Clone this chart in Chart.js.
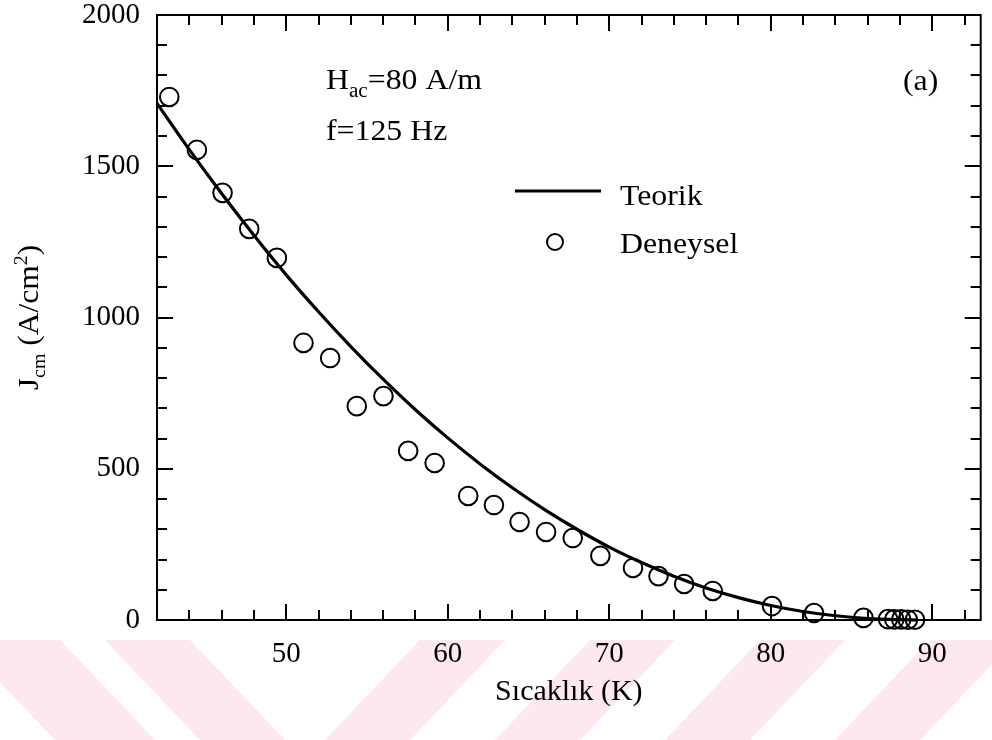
<!DOCTYPE html>
<html>
<head>
<meta charset="utf-8">
<script src="https://cdn.jsdelivr.net/npm/chart.js@4.4.1/dist/chart.umd.min.js"></script>
<style>
  html, body { margin: 0; padding: 0; background: #fff; }
  #wrap { width: 992px; height: 740px; }
</style>
</head>
<body>
<div id="wrap"><canvas id="c" width="992" height="740"></canvas></div>
<script>
// Measured critical current density J_cm (A/cm²) against temperature (K)
const measuredT = [42.76, 44.47, 46.06, 47.71, 49.42, 51.07, 52.72, 54.37, 56.02, 57.55,
                   59.19, 61.27, 62.86, 64.45, 66.09, 67.74, 69.45, 71.47, 73.05, 74.64,
                   76.41, 80.08, 82.68, 85.74, 87.26, 87.65, 88.08, 88.49, 88.93];
const measuredJ = [1729, 1554, 1412, 1293, 1197, 916, 866, 707, 740, 559,
                   519, 410, 380, 324, 291, 271, 212, 172, 145, 119,
                   96, 46, 23, 7, 3, 2, 2, 1, 1];

// Theoretical curve
const theoryT = [42, 44, 46, 48, 50, 52, 54, 56, 58, 60, 62, 64, 66,
                 68, 70, 72, 74, 76, 78, 80, 82, 84, 86, 88, 89];
const theoryJ = [1708, 1555, 1410, 1272, 1141, 1019, 904, 796, 695, 602, 516, 437, 365,
                 300, 241, 190, 145, 106, 74, 48, 28, 14, 5, 1, 0];

const xTickValues = [50, 60, 70, 80, 90];
const yTickValues = [0, 500, 1000, 1500, 2000];
const seriesNames = ['Teorik', 'Deneysel'];

const FONT = "'Liberation Serif', 'Times New Roman', serif";
// plot frame placement on the 992x740 page
const FRAME = { left: 157, top: 15, right: 991, bottom: 620 };
const STRETCH = 1.06;

function drawRuns(ctx, runs, x, y, stretch = 1) {
  // runs: [text, fontSize, baselineShift]; stretch widens glyphs horizontally
  ctx.save();
  ctx.translate(x, y);
  ctx.scale(stretch, 1);
  let cx = 0;
  for (const [t, size, dy] of runs) {
    ctx.font = size + 'px ' + FONT;
    ctx.fillText(t, cx, dy);
    cx += ctx.measureText(t).width;
  }
  ctx.restore();
}
function runsWidth(ctx, runs) {
  let w = 0;
  for (const [t, size] of runs) { ctx.font = size + 'px ' + FONT; w += ctx.measureText(t).width; }
  return w;
}

const decorations = {
  id: 'decorations',
  beforeDraw(chart) {
    const { ctx, width, height } = chart;
    ctx.save();
    ctx.fillStyle = '#ffffff';
    ctx.fillRect(0, 0, width, height);
    // faint diagonal bands along the foot of the page
    ctx.fillStyle = '#fde8ed';
    const bands = [
      [-40, 100, 95], [105, 85, 95],
      [420, 85, -95], [590, 85, -95], [760, 85, -95], [930, 85, -95]
    ];
    for (const [x0, w, d] of bands) {
      ctx.beginPath();
      ctx.moveTo(x0, 640);
      ctx.lineTo(x0 + w, 640);
      ctx.lineTo(x0 + w + d, 740);
      ctx.lineTo(x0 + d, 740);
      ctx.closePath();
      ctx.fill();
    }
    ctx.restore();
  },
  afterDraw(chart) {
    const { ctx, chartArea: a } = chart;
    const xs = chart.scales.x, ys = chart.scales.y;
    ctx.save();
    ctx.strokeStyle = '#000';
    ctx.lineWidth = 2;
    const seg = (x1, y1, x2, y2) => { ctx.beginPath(); ctx.moveTo(x1, y1); ctx.lineTo(x2, y2); ctx.stroke(); };

    // inward tick marks on all four sides
    for (let t = 44; t < xs.max; t += 2) {
      const px = Math.round(xs.getPixelForValue(t));
      const len = t % 10 === 0 ? 16 : 10;
      seg(px, a.bottom, px, a.bottom - len);
      seg(px, a.top, px, a.top + len);
    }
    for (let v = 100; v < ys.max; v += 100) {
      const py = Math.round(ys.getPixelForValue(v));
      const len = v % 500 === 0 ? 16 : 10;
      seg(a.left, py, a.left + len, py);
      seg(a.right, py, a.right - len, py);
    }
    ctx.strokeRect(a.left, a.top, a.right - a.left, a.bottom - a.top);

    // text inside the plot
    ctx.fillStyle = '#000';
    ctx.textAlign = 'left';
    ctx.textBaseline = 'alphabetic';
    drawRuns(ctx, [['H', 30, 0], ['ac', 20, 8], ['=80 A/m', 30, 0]], 326, 89, STRETCH);
    drawRuns(ctx, [['f=125 Hz', 30, 0]], 326, 140, STRETCH);
    drawRuns(ctx, [['(a)', 30, 0]], 903, 90, STRETCH);

    // legend
    ctx.lineWidth = 3;
    seg(515, 191, 601, 191);
    ctx.lineWidth = 2;
    ctx.beginPath(); ctx.arc(555, 242, 8, 0, Math.PI * 2); ctx.stroke();
    drawRuns(ctx, [[seriesNames[0], 30, 0]], 620, 205, STRETCH);
    drawRuns(ctx, [[seriesNames[1], 30, 0]], 620, 253, STRETCH);

    // y axis title with sub/superscripts
    const yTitle = [['J', 30, 0], ['cm', 19, 7], [' (A/cm', 30, 0], ['2', 19, -11], [')', 30, 0]];
    const w = runsWidth(ctx, yTitle) * 1.05;
    ctx.translate(38, (a.top + a.bottom) / 2);
    ctx.rotate(-Math.PI / 2);
    drawRuns(ctx, yTitle, -w / 2, 0, 1.05);
    ctx.restore();
  }
};

const chart = new Chart(document.getElementById('c'), {
  type: 'scatter',
  data: {
    datasets: [
      {
        label: seriesNames[0],
        data: theoryT.map((t, i) => ({ x: t, y: theoryJ[i] })),
        showLine: true,
        borderColor: '#000',
        borderWidth: 3.2,
        pointRadius: 0,
        cubicInterpolationMode: 'monotone',
        fill: false,
        clip: false,
        order: 1
      },
      {
        label: seriesNames[1],
        data: measuredT.map((t, i) => ({ x: t, y: measuredJ[i] })),
        showLine: false,
        pointStyle: 'circle',
        pointRadius: 9.3,
        pointBorderWidth: 2,
        pointBorderColor: '#000',
        pointBackgroundColor: 'rgba(0,0,0,0)',
        clip: false,
        order: 2
      }
    ]
  },
  options: {
    responsive: false,
    animation: false,
    events: [],
    layout: { padding: { top: FRAME.top, right: 992 - FRAME.right, left: 0, bottom: 0 } },
    plugins: { legend: { display: false }, tooltip: { enabled: false } },
    scales: {
      x: {
        type: 'linear',
        min: 42,
        max: 93,
        grid: { display: false, drawTicks: false },
        border: { display: false },
        afterBuildTicks: s => { s.ticks = xTickValues.map(v => ({ value: v })); },
        afterFit: s => { s.height = 740 - FRAME.bottom; s.paddingLeft = 0; s.paddingRight = 0; },
        ticks: {
          font: { family: FONT, size: 29 }, color: '#000', padding: 17,
          maxRotation: 0, autoSkip: false, callback: v => String(v)
        },
        title: {
          display: true,
          text: 'Sıcaklık (K)',
          color: '#000',
          font: { family: FONT, size: 30 },
          padding: { top: 0, bottom: 30 }
        }
      },
      y: {
        type: 'linear',
        min: 0,
        max: 2000,
        grid: { display: false, drawTicks: false },
        border: { display: false },
        afterBuildTicks: s => { s.ticks = yTickValues.map(v => ({ value: v })); },
        afterFit: s => { s.width = FRAME.left; s.paddingTop = 0; s.paddingBottom = 0; },
        ticks: {
          font: { family: FONT, size: 29 }, color: '#000', padding: 17,
          autoSkip: false, callback: v => String(v)
        }
      }
    }
  },
  plugins: [decorations]
});

// nudge the layout padding so the plot frame lands where intended
const pad = chart.options.layout.padding;
const dr = FRAME.right - chart.chartArea.right;
const dt = chart.chartArea.top - FRAME.top;
if (dr !== 0 || dt !== 0) {
  pad.right -= dr;
  pad.top -= dt;
  chart.update();
}
</script>
</body>
</html>
